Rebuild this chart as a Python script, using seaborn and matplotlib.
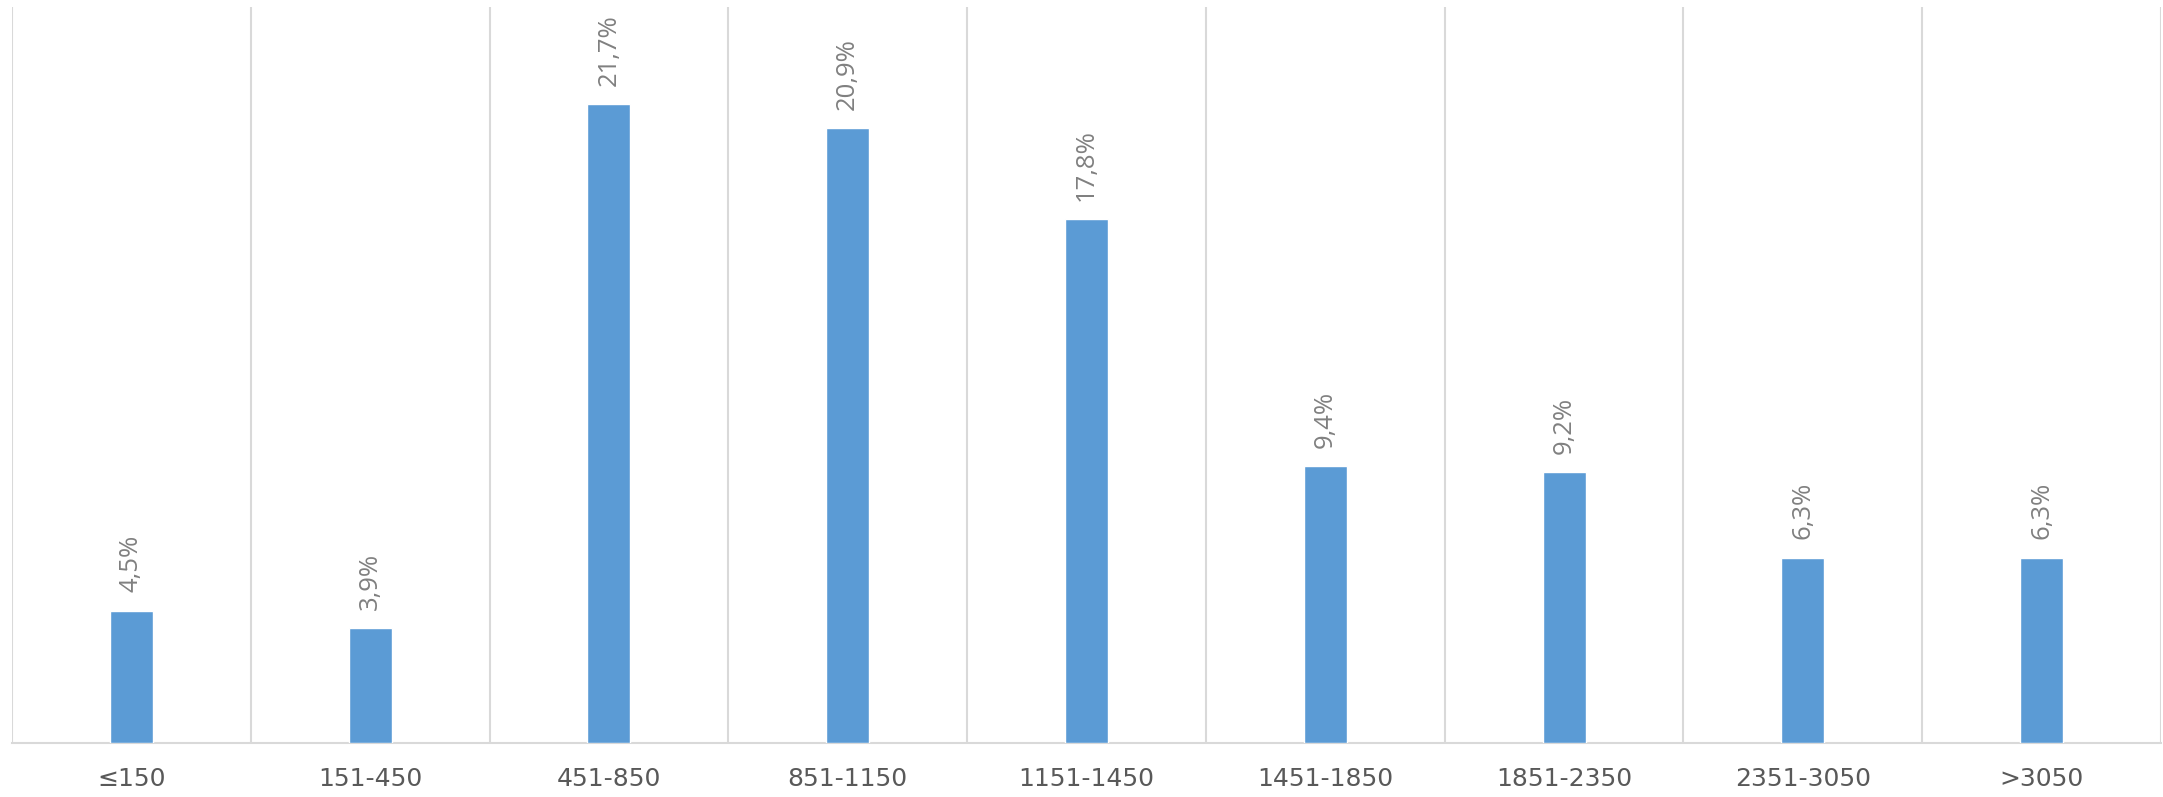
import matplotlib
matplotlib.use("Agg")
import matplotlib.pyplot as plt
import seaborn as sns
import pandas as pd
import numpy as np

categories = ["≤150", "151-450", "451-850", "851-1150", "1151-1450",
              "1451-1850", "1851-2350", "2351-3050", ">3050"]
values = [4.5, 3.9, 21.7, 20.9, 17.8, 9.4, 9.2, 6.3, 6.3]
labels = ["4,5%", "3,9%", "21,7%", "20,9%", "17,8%", "9,4%", "9,2%", "6,3%", "6,3%"]

df = pd.DataFrame({"cat": categories, "val": values})

sns.set_theme(style="white")
plt.rcParams['font.family'] = ['Open Sans', 'DejaVu Sans']

W, H = 2163, 797
fig = plt.figure(figsize=(W / 100, H / 100), dpi=100)
ax = fig.add_axes([12 / W, (H - 743) / H, (2161 - 12) / W, (743 - 7) / H])

sns.barplot(data=df, x="cat", y="val", color="#5B9BD5", width=0.18,
            saturation=1, ax=ax, zorder=3)

ax.set_ylim(0, 25)
ax.set_xlim(-0.5, len(categories) - 0.5)
ax.set_xlabel("")
ax.set_ylabel("")
ax.set_yticks([])

# vertical separators between categories
for b in np.arange(-0.5, len(categories), 1.0):
    ax.axvline(b, color="#D9D9D9", lw=1.5, zorder=1)

for s in ["top", "left", "right"]:
    ax.spines[s].set_visible(False)
ax.spines["bottom"].set_color("#D9D9D9")
ax.spines["bottom"].set_linewidth(1.5)

ax.tick_params(axis="x", length=0, pad=17, labelsize=18, labelcolor="#595959")
for t in ax.get_xticklabels():
    t.set_fontfamily(['DejaVu Sans'])

for i, (v, lab) in enumerate(zip(values, labels)):
    ax.annotate(lab, (i, v), xytext=(0, 13), textcoords="offset points",
                rotation=90, ha="center", va="bottom", fontsize=18.5,
                color="#808080")

fig.savefig("out.png", dpi=100, facecolor="white")
